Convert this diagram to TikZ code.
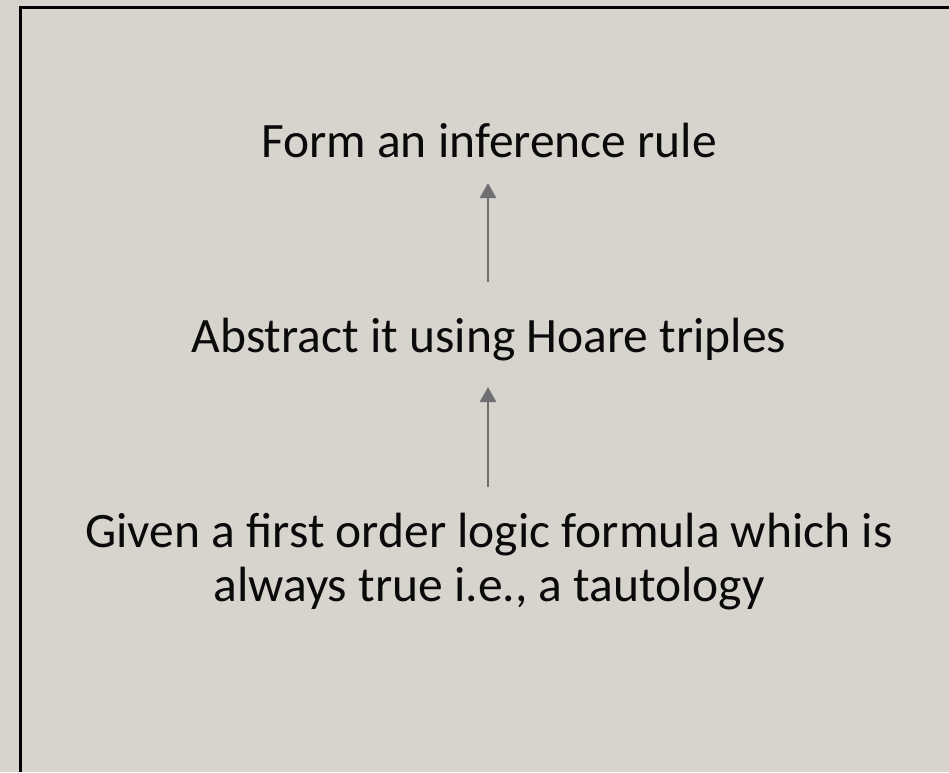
\documentclass[tikz,border=0pt]{standalone}
\usepackage{fontspec}
\setmainfont{Carlito}
\usetikzlibrary{arrows.meta}
\definecolor{bgcol}{RGB}{215,212,206}
\definecolor{arrcol}{RGB}{110,110,115}
\definecolor{txtcol}{RGB}{10,10,10}
\tikzset{
  lbl/.style={inner sep=0pt, outer sep=0pt, text=txtcol, font=\fontsize{49.5}{54}\selectfont, align=center},
  one/.style={text height=32pt, text depth=0pt},
  upar/.style={draw=arrcol, line width=2.8pt, -{Triangle[width=16pt,length=15pt]}},
}
\begin{document}
\begin{tikzpicture}[x=1pt,y=-1pt]
\useasboundingbox (0,0) rectangle (949,772);
\fill[bgcol] (0,0) rectangle (949,772);
\draw[black, line width=2.5pt] (20.5,772) -- (20.5,7.5) -- (949,7.5);
\node[lbl, one, anchor=base] (rule) at (489,157) {Form an inference rule};
\node[lbl, one, anchor=base] (hoare) at (489,352) {Abstract it using Hoare triples};
\node[lbl, anchor=north] (given) at (489,513) {Given a first order logic formula which is\\always true i.e., a tautology};
\coordinate (ax) at (488,0);
\draw[upar] ([yshift=38pt]hoare.north -| ax) -- ([yshift=-26pt]rule.south -| ax);
\draw[upar] ([yshift=26pt]given.north -| ax) -- ([yshift=-35pt]hoare.south -| ax);
\end{tikzpicture}
\end{document}
